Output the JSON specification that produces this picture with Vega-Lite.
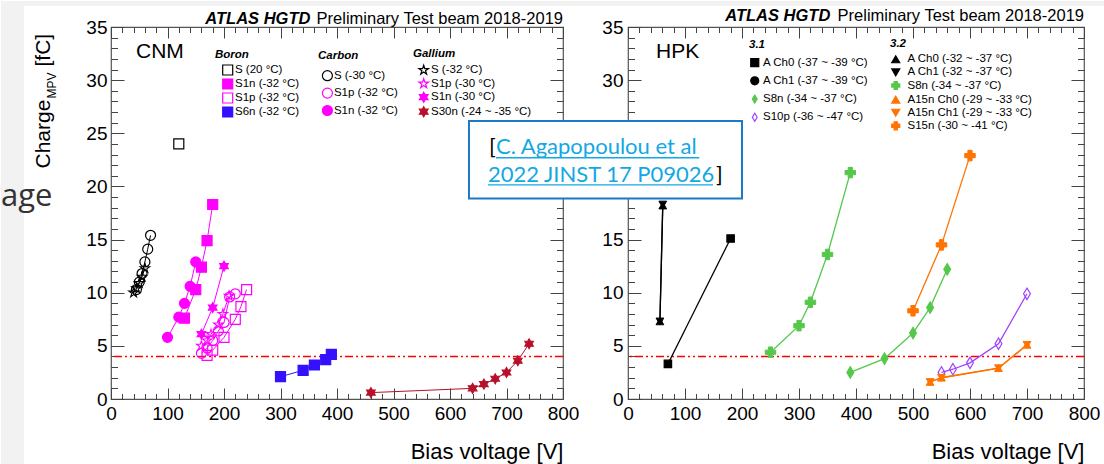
{
  "$schema": "https://vega.github.io/schema/vega-lite/v6.json",
  "background": "white",
  "padding": {"left": 0, "top": 0, "right": 0, "bottom": 0},
  "bounds": "flush",
  "spacing": 65,
  "config": {
    "font": "Liberation Sans",
    "view": {"stroke": "#555555", "strokeWidth": 1.2},
    "axis": {"grid": false, "domain": false, "labelFont": "Liberation Sans", "titleFont": "Liberation Sans", "labelColor": "#000000", "titleColor": "#000000", "tickColor": "#444444", "tickWidth": 1, "titleFontWeight": "normal"},
    "legend": {"orient": "none", "direction": "vertical", "padding": 0, "titleFont": "Liberation Sans", "titleFontSize": 11.5, "titleFontStyle": "italic", "titleFontWeight": "bold", "titleColor": "#000000", "labelFont": "Liberation Sans", "labelFontSize": 11.5, "labelColor": "#000000", "symbolStrokeWidth": 1.2}
  },
  "datasets": {
    "cnm": [
      {"group": "Boron", "series": "S (20 °C)", "v": 120, "q": 24.0},
      {"group": "Boron", "series": "S1n (-32 °C)", "v": 130, "q": 7.6},
      {"group": "Boron", "series": "S1n (-32 °C)", "v": 150, "q": 10.3},
      {"group": "Boron", "series": "S1n (-32 °C)", "v": 160, "q": 12.4},
      {"group": "Boron", "series": "S1n (-32 °C)", "v": 170, "q": 14.9},
      {"group": "Boron", "series": "S1n (-32 °C)", "v": 180, "q": 18.3},
      {"group": "Boron", "series": "S1p (-32 °C)", "v": 170, "q": 4.1},
      {"group": "Boron", "series": "S1p (-32 °C)", "v": 180, "q": 4.6},
      {"group": "Boron", "series": "S1p (-32 °C)", "v": 200, "q": 5.8},
      {"group": "Boron", "series": "S1p (-32 °C)", "v": 220, "q": 7.5},
      {"group": "Boron", "series": "S1p (-32 °C)", "v": 230, "q": 8.7},
      {"group": "Boron", "series": "S1p (-32 °C)", "v": 240, "q": 10.3},
      {"group": "Boron", "series": "S6n (-32 °C)", "v": 300, "q": 2.1},
      {"group": "Boron", "series": "S6n (-32 °C)", "v": 340, "q": 2.7},
      {"group": "Boron", "series": "S6n (-32 °C)", "v": 360, "q": 3.2},
      {"group": "Boron", "series": "S6n (-32 °C)", "v": 380, "q": 3.7},
      {"group": "Boron", "series": "S6n (-32 °C)", "v": 390, "q": 4.2},
      {"group": "Carbon", "series": "S (-30 °C)", "v": 45, "q": 10.3},
      {"group": "Carbon", "series": "S (-30 °C)", "v": 50, "q": 11.0},
      {"group": "Carbon", "series": "S (-30 °C)", "v": 55, "q": 11.8},
      {"group": "Carbon", "series": "S (-30 °C)", "v": 60, "q": 12.9},
      {"group": "Carbon", "series": "S (-30 °C)", "v": 65, "q": 14.1},
      {"group": "Carbon", "series": "S (-30 °C)", "v": 70, "q": 15.4},
      {"group": "Carbon", "series": "S1p (-32 °C)", "v": 160, "q": 4.3},
      {"group": "Carbon", "series": "S1p (-32 °C)", "v": 170, "q": 4.8},
      {"group": "Carbon", "series": "S1p (-32 °C)", "v": 180, "q": 5.5},
      {"group": "Carbon", "series": "S1p (-32 °C)", "v": 190, "q": 6.4},
      {"group": "Carbon", "series": "S1p (-32 °C)", "v": 200, "q": 7.2},
      {"group": "Carbon", "series": "S1p (-32 °C)", "v": 210, "q": 9.6},
      {"group": "Carbon", "series": "S1p (-32 °C)", "v": 220, "q": 9.9},
      {"group": "Carbon", "series": "S1n (-32 °C)", "v": 100, "q": 5.8},
      {"group": "Carbon", "series": "S1n (-32 °C)", "v": 120, "q": 7.7},
      {"group": "Carbon", "series": "S1n (-32 °C)", "v": 130, "q": 9.0},
      {"group": "Carbon", "series": "S1n (-32 °C)", "v": 140, "q": 10.6},
      {"group": "Carbon", "series": "S1n (-32 °C)", "v": 150, "q": 12.9},
      {"group": "Gallium", "series": "S (-32 °C)", "v": 40, "q": 10.0},
      {"group": "Gallium", "series": "S (-32 °C)", "v": 45, "q": 10.4},
      {"group": "Gallium", "series": "S (-32 °C)", "v": 50, "q": 10.9},
      {"group": "Gallium", "series": "S (-32 °C)", "v": 55, "q": 11.5},
      {"group": "Gallium", "series": "S (-32 °C)", "v": 60, "q": 12.3},
      {"group": "Gallium", "series": "S1p (-30 °C)", "v": 160, "q": 5.0},
      {"group": "Gallium", "series": "S1p (-30 °C)", "v": 170, "q": 5.5},
      {"group": "Gallium", "series": "S1p (-30 °C)", "v": 177, "q": 6.1},
      {"group": "Gallium", "series": "S1p (-30 °C)", "v": 190, "q": 7.0},
      {"group": "Gallium", "series": "S1p (-30 °C)", "v": 198, "q": 8.0},
      {"group": "Gallium", "series": "S1p (-30 °C)", "v": 209, "q": 9.7},
      {"group": "Gallium", "series": "S1n (-30 °C)", "v": 160, "q": 6.1},
      {"group": "Gallium", "series": "S1n (-30 °C)", "v": 180, "q": 8.6},
      {"group": "Gallium", "series": "S1n (-30 °C)", "v": 200, "q": 12.5},
      {"group": "Gallium", "series": "S30n (-24 ~ -35 °C)", "v": 460, "q": 0.6},
      {"group": "Gallium", "series": "S30n (-24 ~ -35 °C)", "v": 640, "q": 1.0},
      {"group": "Gallium", "series": "S30n (-24 ~ -35 °C)", "v": 660, "q": 1.4},
      {"group": "Gallium", "series": "S30n (-24 ~ -35 °C)", "v": 680, "q": 1.9},
      {"group": "Gallium", "series": "S30n (-24 ~ -35 °C)", "v": 700, "q": 2.5},
      {"group": "Gallium", "series": "S30n (-24 ~ -35 °C)", "v": 720, "q": 3.6},
      {"group": "Gallium", "series": "S30n (-24 ~ -35 °C)", "v": 740, "q": 5.2}
    ],
    "hpk": [
      {"group": "3.1", "series": "A Ch0 (-37 ~ -39 °C)", "v": 70, "q": 3.3},
      {"group": "3.1", "series": "A Ch0 (-37 ~ -39 °C)", "v": 180, "q": 15.1},
      {"group": "3.1", "series": "S8n (-34 ~ -37 °C)", "v": 390, "q": 2.5},
      {"group": "3.1", "series": "S8n (-34 ~ -37 °C)", "v": 450, "q": 3.8},
      {"group": "3.1", "series": "S8n (-34 ~ -37 °C)", "v": 500, "q": 6.2},
      {"group": "3.1", "series": "S8n (-34 ~ -37 °C)", "v": 530, "q": 8.6},
      {"group": "3.1", "series": "S8n (-34 ~ -37 °C)", "v": 560, "q": 12.2},
      {"group": "3.1", "series": "S10p (-36 ~ -47 °C)", "v": 550, "q": 2.5},
      {"group": "3.1", "series": "S10p (-36 ~ -47 °C)", "v": 570, "q": 2.8},
      {"group": "3.1", "series": "S10p (-36 ~ -47 °C)", "v": 600, "q": 3.4},
      {"group": "3.1", "series": "S10p (-36 ~ -47 °C)", "v": 650, "q": 5.2},
      {"group": "3.1", "series": "S10p (-36 ~ -47 °C)", "v": 700, "q": 9.9},
      {"group": "3.2", "series": "A Ch0 (-32 ~ -37 °C)", "v": 56, "q": 7.3},
      {"group": "3.2", "series": "A Ch0 (-32 ~ -37 °C)", "v": 61, "q": 18.2},
      {"group": "3.2", "series": "A Ch1 (-32 ~ -37 °C)", "v": 56, "q": 7.3},
      {"group": "3.2", "series": "A Ch1 (-32 ~ -37 °C)", "v": 61, "q": 18.3},
      {"group": "3.2", "series": "S8n (-34 ~ -37 °C)", "v": 250, "q": 4.4},
      {"group": "3.2", "series": "S8n (-34 ~ -37 °C)", "v": 300, "q": 6.9},
      {"group": "3.2", "series": "S8n (-34 ~ -37 °C)", "v": 320, "q": 9.1},
      {"group": "3.2", "series": "S8n (-34 ~ -37 °C)", "v": 350, "q": 13.6},
      {"group": "3.2", "series": "S8n (-34 ~ -37 °C)", "v": 390, "q": 21.3},
      {"group": "3.2", "series": "A15n Ch0 (-29 ~ -33 °C)", "v": 530, "q": 1.6},
      {"group": "3.2", "series": "A15n Ch0 (-29 ~ -33 °C)", "v": 550, "q": 2.0},
      {"group": "3.2", "series": "A15n Ch0 (-29 ~ -33 °C)", "v": 650, "q": 2.9},
      {"group": "3.2", "series": "A15n Ch0 (-29 ~ -33 °C)", "v": 700, "q": 5.1},
      {"group": "3.2", "series": "A15n Ch1 (-29 ~ -33 °C)", "v": 530, "q": 1.6},
      {"group": "3.2", "series": "A15n Ch1 (-29 ~ -33 °C)", "v": 550, "q": 2.0},
      {"group": "3.2", "series": "A15n Ch1 (-29 ~ -33 °C)", "v": 650, "q": 2.9},
      {"group": "3.2", "series": "A15n Ch1 (-29 ~ -33 °C)", "v": 700, "q": 5.1},
      {"group": "3.2", "series": "S15n (-30 ~ -41 °C)", "v": 500, "q": 8.3},
      {"group": "3.2", "series": "S15n (-30 ~ -41 °C)", "v": 550, "q": 14.5},
      {"group": "3.2", "series": "S15n (-30 ~ -41 °C)", "v": 600, "q": 22.9}
    ]
  },
  "resolve": {"scale": {"color": "independent", "fill": "independent", "stroke": "independent", "shape": "independent"}},
  "hconcat": [
    {
      "width": 452,
      "height": 372,
      "resolve": {"scale": {"color": "independent", "fill": "independent", "stroke": "independent", "shape": "independent"}, "axis": {"x": "independent", "y": "independent"}, "legend": {"color": "independent", "fill": "independent", "stroke": "independent", "shape": "independent"}},
      "layer": [
        {
          "data": {"values": [{}]},
          "mark": {"type": "rect", "fill": "#f2f2f2"},
          "encoding": {
            "x": {"datum": -194.7, "type": "quantitative", "scale": {"domain": [0, 800], "nice": false, "zero": false}, "axis": null},
            "x2": {"datum": -154},
            "y": {"datum": 37.446, "type": "quantitative", "scale": {"domain": [0, 35], "nice": false, "zero": false}, "axis": null},
            "y2": {"datum": -6.2}
          }
        },
        {
          "data": {"values": [{}]},
          "mark": {"type": "rect", "fill": "#f2f2f2"},
          "encoding": {
            "x": {"datum": -194.7, "type": "quantitative", "scale": {"domain": [0, 800], "nice": false, "zero": false}, "axis": null},
            "x2": {"datum": 1759.3},
            "y": {"datum": 37.446, "type": "quantitative", "scale": {"domain": [0, 35], "nice": false, "zero": false}, "axis": null},
            "y2": {"datum": 36.98}
          }
        },
        {
          "data": {"values": [{}]},
          "mark": {"type": "point", "opacity": 0},
          "encoding": {
            "x": {"datum": 0, "type": "quantitative", "scale": {"domain": [0, 800], "nice": false, "zero": false}, "axis": {"orient": "bottom", "values": [0, 100, 200, 300, 400, 500, 600, 700, 800], "ticks": false, "labelFontSize": 19, "labelPadding": 5, "labelFlush": false, "labelOverlap": false, "title": "Bias voltage [V]", "titleAnchor": "end", "titleFontSize": 22, "titlePadding": 18}},
            "y": {"datum": 0, "type": "quantitative", "scale": {"domain": [0, 35], "nice": false, "zero": false}, "axis": {"orient": "left", "values": [0, 5, 10, 15, 20, 25, 30, 35], "ticks": false, "labelFontSize": 19, "labelPadding": 4, "labelOverlap": false, "title": "Charge", "titleFontSize": 21, "titleAngle": 270, "titleAlign": "left", "titleBaseline": "alphabetic", "titleX": -62, "titleY": 141}}
          }
        },
        {
          "data": {"values": [{}]},
          "mark": {"type": "point", "opacity": 0},
          "encoding": {
            "x": {"datum": 0, "type": "quantitative", "scale": {"domain": [0, 800], "nice": false, "zero": false}, "axis": null},
            "y": {"datum": 0, "type": "quantitative", "scale": {"domain": [0, 35], "nice": false, "zero": false}, "axis": {"orient": "left", "labels": false, "ticks": false, "title": "MPV", "titleFontSize": 12, "titleAngle": 270, "titleAlign": "left", "titleBaseline": "alphabetic", "titleX": -56, "titleY": 71}}
          }
        },
        {
          "data": {"values": [{}]},
          "mark": {"type": "point", "opacity": 0},
          "encoding": {
            "x": {"datum": 0, "type": "quantitative", "scale": {"domain": [0, 800], "nice": false, "zero": false}, "axis": null},
            "y": {"datum": 0, "type": "quantitative", "scale": {"domain": [0, 35], "nice": false, "zero": false}, "axis": {"orient": "left", "labels": false, "ticks": false, "title": "[fC]", "titleFontSize": 21, "titleAngle": 270, "titleAlign": "left", "titleBaseline": "alphabetic", "titleX": -62, "titleY": 39}}
          }
        },
        {
          "data": {"values": [{}]},
          "mark": {"type": "point", "opacity": 0},
          "encoding": {
            "x": {"datum": 0, "type": "quantitative", "scale": {"domain": [0, 800], "nice": false, "zero": false}, "axis": {"orient": "bottom", "values": [0, 100, 200, 300, 400, 500, 600, 700, 800], "labels": false, "tickSize": -11, "title": null}},
            "y": {"datum": 0, "type": "quantitative", "scale": {"domain": [0, 35], "nice": false, "zero": false}, "axis": {"orient": "left", "values": [0, 5, 10, 15, 20, 25, 30, 35], "labels": false, "tickSize": -13, "title": null}}
          }
        },
        {
          "data": {"values": [{}]},
          "mark": {"type": "point", "opacity": 0},
          "encoding": {
            "x": {"datum": 0, "type": "quantitative", "scale": {"domain": [0, 800], "nice": false, "zero": false}, "axis": {"orient": "bottom", "values": [0, 20, 40, 60, 80, 100, 120, 140, 160, 180, 200, 220, 240, 260, 280, 300, 320, 340, 360, 380, 400, 420, 440, 460, 480, 500, 520, 540, 560, 580, 600, 620, 640, 660, 680, 700, 720, 740, 760, 780, 800], "labels": false, "tickSize": -5.5, "title": null}},
            "y": {"datum": 0, "type": "quantitative", "scale": {"domain": [0, 35], "nice": false, "zero": false}, "axis": {"orient": "left", "values": [0, 1, 2, 3, 4, 5, 6, 7, 8, 9, 10, 11, 12, 13, 14, 15, 16, 17, 18, 19, 20, 21, 22, 23, 24, 25, 26, 27, 28, 29, 30, 31, 32, 33, 34, 35], "labels": false, "tickSize": -6.5, "title": null}}
          }
        },
        {
          "data": {"values": [{}]},
          "mark": {"type": "point", "opacity": 0},
          "encoding": {
            "x": {"datum": 0, "type": "quantitative", "scale": {"domain": [0, 800], "nice": false, "zero": false}, "axis": {"orient": "top", "values": [0, 100, 200, 300, 400, 500, 600, 700, 800], "labels": false, "tickSize": -11, "title": null}},
            "y": {"datum": 0, "type": "quantitative", "scale": {"domain": [0, 35], "nice": false, "zero": false}, "axis": {"orient": "right", "values": [0, 5, 10, 15, 20, 25, 30, 35], "labels": false, "tickSize": -13, "title": null}}
          }
        },
        {
          "data": {"values": [{}]},
          "mark": {"type": "point", "opacity": 0},
          "encoding": {
            "x": {"datum": 0, "type": "quantitative", "scale": {"domain": [0, 800], "nice": false, "zero": false}, "axis": {"orient": "top", "values": [0, 20, 40, 60, 80, 100, 120, 140, 160, 180, 200, 220, 240, 260, 280, 300, 320, 340, 360, 380, 400, 420, 440, 460, 480, 500, 520, 540, 560, 580, 600, 620, 640, 660, 680, 700, 720, 740, 760, 780, 800], "labels": false, "tickSize": -5.5, "title": null}},
            "y": {"datum": 0, "type": "quantitative", "scale": {"domain": [0, 35], "nice": false, "zero": false}, "axis": {"orient": "right", "values": [0, 1, 2, 3, 4, 5, 6, 7, 8, 9, 10, 11, 12, 13, 14, 15, 16, 17, 18, 19, 20, 21, 22, 23, 24, 25, 26, 27, 28, 29, 30, 31, 32, 33, 34, 35], "labels": false, "tickSize": -6.5, "title": null}}
          }
        },
        {
          "data": {"values": [{}]},
          "mark": {"type": "rule", "color": "#ff0000", "strokeWidth": 1.5, "strokeDash": [8, 3, 2, 3, 2, 3]},
          "encoding": {
            "y": {"datum": 4, "type": "quantitative", "scale": {"domain": [0, 35], "nice": false, "zero": false}, "axis": null}
          }
        },
        {
          "data": {"name": "cnm"},
          "transform": [{"filter": "datum.group === 'Boron'"}],
          "mark": {"type": "line", "strokeWidth": 1},
          "encoding": {
            "x": {"field": "v", "type": "quantitative", "scale": {"domain": [0, 800], "nice": false, "zero": false}, "axis": null},
            "y": {"field": "q", "type": "quantitative", "scale": {"domain": [0, 35], "nice": false, "zero": false}, "axis": null},
            "color": {"field": "series", "type": "nominal", "scale": {"domain": ["S (20 °C)", "S1n (-32 °C)", "S1p (-32 °C)", "S6n (-32 °C)"], "range": ["#000000", "#ff00ff", "#ff00ff", "#3311ff"]}, "legend": null}
          }
        },
        {
          "data": {"name": "cnm"},
          "transform": [{"filter": "datum.group === 'Boron'"}],
          "mark": {"type": "point", "opacity": 1, "size": 100, "strokeWidth": 1.2},
          "encoding": {
            "x": {"field": "v", "type": "quantitative", "scale": {"domain": [0, 800], "nice": false, "zero": false}, "axis": null},
            "y": {"field": "q", "type": "quantitative", "scale": {"domain": [0, 35], "nice": false, "zero": false}, "axis": null},
            "stroke": {"field": "series", "type": "nominal", "scale": {"domain": ["S (20 °C)", "S1n (-32 °C)", "S1p (-32 °C)", "S6n (-32 °C)"], "range": ["#000000", "#ff00ff", "#ff00ff", "#3311ff"]}, "legend": {"orient": "none", "title": "Boron", "legendX": 104, "legendY": 21.5, "titlePadding": 4, "rowPadding": -2.4, "symbolOffset": 6.7, "labelOffset": 1.3, "symbolSize": 100}},
            "fill": {"field": "series", "type": "nominal", "scale": {"domain": ["S (20 °C)", "S1n (-32 °C)", "S1p (-32 °C)", "S6n (-32 °C)"], "range": ["transparent", "#ff00ff", "transparent", "#3311ff"]}, "legend": {"orient": "none", "title": "Boron", "legendX": 104, "legendY": 21.5, "titlePadding": 4, "rowPadding": -2.4, "symbolOffset": 6.7, "labelOffset": 1.3, "symbolSize": 100}},
            "shape": {"field": "series", "type": "nominal", "scale": {"domain": ["S (20 °C)", "S1n (-32 °C)", "S1p (-32 °C)", "S6n (-32 °C)"], "range": ["square", "square", "square", "square"]}, "legend": {"orient": "none", "title": "Boron", "legendX": 104, "legendY": 21.5, "titlePadding": 4, "rowPadding": -2.4, "symbolOffset": 6.7, "labelOffset": 1.3, "symbolSize": 100}}
          }
        },
        {
          "data": {"name": "cnm"},
          "transform": [{"filter": "datum.group === 'Carbon'"}],
          "mark": {"type": "line", "strokeWidth": 1},
          "encoding": {
            "x": {"field": "v", "type": "quantitative", "scale": {"domain": [0, 800], "nice": false, "zero": false}, "axis": null},
            "y": {"field": "q", "type": "quantitative", "scale": {"domain": [0, 35], "nice": false, "zero": false}, "axis": null},
            "color": {"field": "series", "type": "nominal", "scale": {"domain": ["S (-30 °C)", "S1p (-32 °C)", "S1n (-32 °C)"], "range": ["#000000", "#ff00ff", "#ff00ff"]}, "legend": null}
          }
        },
        {
          "data": {"name": "cnm"},
          "transform": [{"filter": "datum.group === 'Carbon'"}],
          "mark": {"type": "point", "opacity": 1, "size": 100, "strokeWidth": 1.2},
          "encoding": {
            "x": {"field": "v", "type": "quantitative", "scale": {"domain": [0, 800], "nice": false, "zero": false}, "axis": null},
            "y": {"field": "q", "type": "quantitative", "scale": {"domain": [0, 35], "nice": false, "zero": false}, "axis": null},
            "stroke": {"field": "series", "type": "nominal", "scale": {"domain": ["S (-30 °C)", "S1p (-32 °C)", "S1n (-32 °C)"], "range": ["#000000", "#ff00ff", "#ff00ff"]}, "legend": {"orient": "none", "title": "Carbon", "legendX": 207, "legendY": 23.2, "titlePadding": 8, "rowPadding": 1.4, "symbolOffset": 3.4, "labelOffset": 0.5, "symbolSize": 100}},
            "fill": {"field": "series", "type": "nominal", "scale": {"domain": ["S (-30 °C)", "S1p (-32 °C)", "S1n (-32 °C)"], "range": ["transparent", "transparent", "#ff00ff"]}, "legend": {"orient": "none", "title": "Carbon", "legendX": 207, "legendY": 23.2, "titlePadding": 8, "rowPadding": 1.4, "symbolOffset": 3.4, "labelOffset": 0.5, "symbolSize": 100}},
            "shape": {"field": "series", "type": "nominal", "scale": {"domain": ["S (-30 °C)", "S1p (-32 °C)", "S1n (-32 °C)"], "range": ["circle", "circle", "circle"]}, "legend": {"orient": "none", "title": "Carbon", "legendX": 207, "legendY": 23.2, "titlePadding": 8, "rowPadding": 1.4, "symbolOffset": 3.4, "labelOffset": 0.5, "symbolSize": 100}}
          }
        },
        {
          "data": {"name": "cnm"},
          "transform": [{"filter": "datum.group === 'Gallium'"}],
          "mark": {"type": "line", "strokeWidth": 1},
          "encoding": {
            "x": {"field": "v", "type": "quantitative", "scale": {"domain": [0, 800], "nice": false, "zero": false}, "axis": null},
            "y": {"field": "q", "type": "quantitative", "scale": {"domain": [0, 35], "nice": false, "zero": false}, "axis": null},
            "color": {"field": "series", "type": "nominal", "scale": {"domain": ["S (-32 °C)", "S1p (-30 °C)", "S1n (-30 °C)", "S30n (-24 ~ -35 °C)"], "range": ["#000000", "#ff00ff", "#ff00ff", "#b8102a"]}, "legend": null}
          }
        },
        {
          "data": {"name": "cnm"},
          "transform": [{"filter": "datum.group === 'Gallium'"}],
          "mark": {"type": "point", "opacity": 1, "size": 100, "strokeWidth": 1.1},
          "encoding": {
            "x": {"field": "v", "type": "quantitative", "scale": {"domain": [0, 800], "nice": false, "zero": false}, "axis": null},
            "y": {"field": "q", "type": "quantitative", "scale": {"domain": [0, 35], "nice": false, "zero": false}, "axis": null},
            "stroke": {"field": "series", "type": "nominal", "scale": {"domain": ["S (-32 °C)", "S1p (-30 °C)", "S1n (-30 °C)", "S30n (-24 ~ -35 °C)"], "range": ["#000000", "#ff00ff", "#ff00ff", "#b8102a"]}, "legend": {"orient": "none", "title": "Gallium", "legendX": 302, "legendY": 21.2, "titlePadding": 4.5, "rowPadding": -1.5, "symbolOffset": 4.7, "labelOffset": 1.3, "symbolSize": 100}},
            "fill": {"field": "series", "type": "nominal", "scale": {"domain": ["S (-32 °C)", "S1p (-30 °C)", "S1n (-30 °C)", "S30n (-24 ~ -35 °C)"], "range": ["transparent", "transparent", "#ff00ff", "#b8102a"]}, "legend": {"orient": "none", "title": "Gallium", "legendX": 302, "legendY": 21.2, "titlePadding": 4.5, "rowPadding": -1.5, "symbolOffset": 4.7, "labelOffset": 1.3, "symbolSize": 100}},
            "shape": {"field": "series", "type": "nominal", "scale": {"domain": ["S (-32 °C)", "S1p (-30 °C)", "S1n (-30 °C)", "S30n (-24 ~ -35 °C)"], "range": ["M0,-1L0.2245,-0.309L0.9511,-0.309L0.3633,0.118L0.5878,0.809L0,0.382L-0.5878,0.809L-0.3633,0.118L-0.9511,-0.309L-0.2245,-0.309Z", "M0,-1L0.2245,-0.309L0.9511,-0.309L0.3633,0.118L0.5878,0.809L0,0.382L-0.5878,0.809L-0.3633,0.118L-0.9511,-0.309L-0.2245,-0.309Z", "M0,-1L0.2887,-0.5L0.866,-0.5L0.5774,0L0.866,0.5L0.2887,0.5L0,1L-0.2887,0.5L-0.866,0.5L-0.5774,0L-0.866,-0.5L-0.2887,-0.5Z", "M0,-1L0.2887,-0.5L0.866,-0.5L0.5774,0L0.866,0.5L0.2887,0.5L0,1L-0.2887,0.5L-0.866,0.5L-0.5774,0L-0.866,-0.5L-0.2887,-0.5Z"]}, "legend": {"orient": "none", "title": "Gallium", "legendX": 302, "legendY": 21.2, "titlePadding": 4.5, "rowPadding": -1.5, "symbolOffset": 4.7, "labelOffset": 1.3, "symbolSize": 100}}
          }
        },
        {
          "data": {"values": [{}]},
          "mark": {"type": "text", "text": "CNM", "align": "left", "baseline": "alphabetic", "fontSize": 21, "font": "Liberation Sans", "color": "#000000"},
          "encoding": {
            "x": {"datum": 44.2, "type": "quantitative", "scale": {"domain": [0, 800], "nice": false, "zero": false}, "axis": null},
            "y": {"datum": 32.11, "type": "quantitative", "scale": {"domain": [0, 35], "nice": false, "zero": false}, "axis": null}
          }
        },
        {
          "data": {"values": [{}]},
          "mark": {"type": "text", "text": "ATLAS HGTD", "align": "right", "baseline": "alphabetic", "fontSize": 16.5, "fontStyle": "italic", "fontWeight": "bold", "font": "Liberation Sans", "color": "#000000"},
          "encoding": {
            "x": {"datum": 353, "type": "quantitative", "scale": {"domain": [0, 800], "nice": false, "zero": false}, "axis": null},
            "y": {"datum": 35.28, "type": "quantitative", "scale": {"domain": [0, 35], "nice": false, "zero": false}, "axis": null}
          }
        },
        {
          "data": {"values": [{}]},
          "mark": {"type": "text", "text": "Preliminary Test beam 2018-2019", "align": "right", "baseline": "alphabetic", "fontSize": 16.5, "font": "Liberation Sans", "color": "#000000"},
          "encoding": {
            "x": {"datum": 800, "type": "quantitative", "scale": {"domain": [0, 800], "nice": false, "zero": false}, "axis": null},
            "y": {"datum": 35.28, "type": "quantitative", "scale": {"domain": [0, 35], "nice": false, "zero": false}, "axis": null}
          }
        },
        {
          "data": {"values": [{}]},
          "mark": {"type": "text", "text": "age", "align": "left", "baseline": "alphabetic", "fontSize": 31, "font": "Open Sans", "color": "#333333"},
          "encoding": {
            "x": {"datum": -194.7, "type": "quantitative", "scale": {"domain": [0, 800], "nice": false, "zero": false}, "axis": null},
            "y": {"datum": 18.2, "type": "quantitative", "scale": {"domain": [0, 35], "nice": false, "zero": false}, "axis": null}
          }
        }
      ]
    },
    {
      "width": 456,
      "height": 372,
      "resolve": {"scale": {"color": "independent", "fill": "independent", "stroke": "independent", "shape": "independent"}, "axis": {"x": "independent", "y": "independent"}, "legend": {"color": "independent", "fill": "independent", "stroke": "independent", "shape": "independent"}},
      "layer": [
        {
          "data": {"values": [{}]},
          "mark": {"type": "point", "opacity": 0},
          "encoding": {
            "x": {"datum": 0, "type": "quantitative", "scale": {"domain": [0, 800], "nice": false, "zero": false}, "axis": {"orient": "bottom", "values": [0, 100, 200, 300, 400, 500, 600, 700, 800], "ticks": false, "labelFontSize": 19, "labelPadding": 5, "labelFlush": false, "labelOverlap": false, "title": "Bias voltage [V]", "titleAnchor": "end", "titleFontSize": 22, "titlePadding": 18}},
            "y": {"datum": 0, "type": "quantitative", "scale": {"domain": [0, 35], "nice": false, "zero": false}, "axis": {"orient": "left", "values": [0, 5, 10, 15, 20, 25, 30, 35], "ticks": false, "labelFontSize": 19, "labelPadding": 5, "labelOverlap": false, "title": null}}
          }
        },
        {
          "data": {"values": [{}]},
          "mark": {"type": "point", "opacity": 0},
          "encoding": {
            "x": {"datum": 0, "type": "quantitative", "scale": {"domain": [0, 800], "nice": false, "zero": false}, "axis": {"orient": "bottom", "values": [0, 100, 200, 300, 400, 500, 600, 700, 800], "labels": false, "tickSize": -11, "title": null}},
            "y": {"datum": 0, "type": "quantitative", "scale": {"domain": [0, 35], "nice": false, "zero": false}, "axis": {"orient": "left", "values": [0, 5, 10, 15, 20, 25, 30, 35], "labels": false, "tickSize": -13, "title": null}}
          }
        },
        {
          "data": {"values": [{}]},
          "mark": {"type": "point", "opacity": 0},
          "encoding": {
            "x": {"datum": 0, "type": "quantitative", "scale": {"domain": [0, 800], "nice": false, "zero": false}, "axis": {"orient": "bottom", "values": [0, 20, 40, 60, 80, 100, 120, 140, 160, 180, 200, 220, 240, 260, 280, 300, 320, 340, 360, 380, 400, 420, 440, 460, 480, 500, 520, 540, 560, 580, 600, 620, 640, 660, 680, 700, 720, 740, 760, 780, 800], "labels": false, "tickSize": -5.5, "title": null}},
            "y": {"datum": 0, "type": "quantitative", "scale": {"domain": [0, 35], "nice": false, "zero": false}, "axis": {"orient": "left", "values": [0, 1, 2, 3, 4, 5, 6, 7, 8, 9, 10, 11, 12, 13, 14, 15, 16, 17, 18, 19, 20, 21, 22, 23, 24, 25, 26, 27, 28, 29, 30, 31, 32, 33, 34, 35], "labels": false, "tickSize": -6.5, "title": null}}
          }
        },
        {
          "data": {"values": [{}]},
          "mark": {"type": "point", "opacity": 0},
          "encoding": {
            "x": {"datum": 0, "type": "quantitative", "scale": {"domain": [0, 800], "nice": false, "zero": false}, "axis": {"orient": "top", "values": [0, 100, 200, 300, 400, 500, 600, 700, 800], "labels": false, "tickSize": -11, "title": null}},
            "y": {"datum": 0, "type": "quantitative", "scale": {"domain": [0, 35], "nice": false, "zero": false}, "axis": {"orient": "right", "values": [0, 5, 10, 15, 20, 25, 30, 35], "labels": false, "tickSize": -13, "title": null}}
          }
        },
        {
          "data": {"values": [{}]},
          "mark": {"type": "point", "opacity": 0},
          "encoding": {
            "x": {"datum": 0, "type": "quantitative", "scale": {"domain": [0, 800], "nice": false, "zero": false}, "axis": {"orient": "top", "values": [0, 20, 40, 60, 80, 100, 120, 140, 160, 180, 200, 220, 240, 260, 280, 300, 320, 340, 360, 380, 400, 420, 440, 460, 480, 500, 520, 540, 560, 580, 600, 620, 640, 660, 680, 700, 720, 740, 760, 780, 800], "labels": false, "tickSize": -5.5, "title": null}},
            "y": {"datum": 0, "type": "quantitative", "scale": {"domain": [0, 35], "nice": false, "zero": false}, "axis": {"orient": "right", "values": [0, 1, 2, 3, 4, 5, 6, 7, 8, 9, 10, 11, 12, 13, 14, 15, 16, 17, 18, 19, 20, 21, 22, 23, 24, 25, 26, 27, 28, 29, 30, 31, 32, 33, 34, 35], "labels": false, "tickSize": -6.5, "title": null}}
          }
        },
        {
          "data": {"values": [{}]},
          "mark": {"type": "rule", "color": "#ff0000", "strokeWidth": 1.5, "strokeDash": [8, 3, 2, 3, 2, 3]},
          "encoding": {
            "y": {"datum": 4, "type": "quantitative", "scale": {"domain": [0, 35], "nice": false, "zero": false}, "axis": null}
          }
        },
        {
          "data": {"name": "hpk"},
          "transform": [{"filter": "datum.group === '3.1'"}],
          "mark": {"type": "line", "strokeWidth": 1.3},
          "encoding": {
            "x": {"field": "v", "type": "quantitative", "scale": {"domain": [0, 800], "nice": false, "zero": false}, "axis": null},
            "y": {"field": "q", "type": "quantitative", "scale": {"domain": [0, 35], "nice": false, "zero": false}, "axis": null},
            "color": {"field": "series", "type": "nominal", "scale": {"domain": ["A Ch0 (-37 ~ -39 °C)", "A Ch1 (-37 ~ -39 °C)", "S8n (-34 ~ -37 °C)", "S10p (-36 ~ -47 °C)"], "range": ["#000000", "#000000", "#55c84b", "#a040ff"]}, "legend": null}
          }
        },
        {
          "data": {"name": "hpk"},
          "transform": [{"filter": "datum.group === '3.1' && test(/^A/, datum.series)"}],
          "mark": {"type": "point", "opacity": 1, "size": 55, "strokeWidth": 1.2},
          "encoding": {
            "x": {"field": "v", "type": "quantitative", "scale": {"domain": [0, 800], "nice": false, "zero": false}, "axis": null},
            "y": {"field": "q", "type": "quantitative", "scale": {"domain": [0, 35], "nice": false, "zero": false}, "axis": null},
            "stroke": {"field": "series", "type": "nominal", "scale": {"domain": ["A Ch0 (-37 ~ -39 °C)", "A Ch1 (-37 ~ -39 °C)"], "range": ["#000000", "#000000"]}, "legend": null},
            "fill": {"field": "series", "type": "nominal", "scale": {"domain": ["A Ch0 (-37 ~ -39 °C)", "A Ch1 (-37 ~ -39 °C)"], "range": ["#000000", "#000000"]}, "legend": null},
            "shape": {"field": "series", "type": "nominal", "scale": {"domain": ["A Ch0 (-37 ~ -39 °C)", "A Ch1 (-37 ~ -39 °C)"], "range": ["square", "circle"]}, "legend": null}
          }
        },
        {
          "data": {"name": "hpk"},
          "transform": [{"filter": "datum.group === '3.1' && test(/^S/, datum.series)"}],
          "mark": {"type": "point", "opacity": 1, "size": 130, "strokeWidth": 1.2},
          "encoding": {
            "x": {"field": "v", "type": "quantitative", "scale": {"domain": [0, 800], "nice": false, "zero": false}, "axis": null},
            "y": {"field": "q", "type": "quantitative", "scale": {"domain": [0, 35], "nice": false, "zero": false}, "axis": null},
            "stroke": {"field": "series", "type": "nominal", "scale": {"domain": ["A Ch0 (-37 ~ -39 °C)", "A Ch1 (-37 ~ -39 °C)", "S8n (-34 ~ -37 °C)", "S10p (-36 ~ -47 °C)"], "range": ["#000000", "#000000", "#55c84b", "#a040ff"]}, "legend": {"orient": "none", "title": "3.1", "legendX": 121, "legendY": 11.5, "titlePadding": 6.9, "rowPadding": 4.2, "symbolOffset": 0, "labelOffset": 2.5, "symbolSize": 64}},
            "fill": {"field": "series", "type": "nominal", "scale": {"domain": ["A Ch0 (-37 ~ -39 °C)", "A Ch1 (-37 ~ -39 °C)", "S8n (-34 ~ -37 °C)", "S10p (-36 ~ -47 °C)"], "range": ["#000000", "#000000", "#55c84b", "transparent"]}, "legend": {"orient": "none", "title": "3.1", "legendX": 121, "legendY": 11.5, "titlePadding": 6.9, "rowPadding": 4.2, "symbolOffset": 0, "labelOffset": 2.5, "symbolSize": 64}},
            "shape": {"field": "series", "type": "nominal", "scale": {"domain": ["A Ch0 (-37 ~ -39 °C)", "A Ch1 (-37 ~ -39 °C)", "S8n (-34 ~ -37 °C)", "S10p (-36 ~ -47 °C)"], "range": ["square", "circle", "M0,-1L0.6,0L0,1L-0.6,0Z", "M0,-1L0.6,0L0,1L-0.6,0Z"]}, "legend": {"orient": "none", "title": "3.1", "legendX": 121, "legendY": 11.5, "titlePadding": 6.9, "rowPadding": 4.2, "symbolOffset": 0, "labelOffset": 2.5, "symbolSize": 64}}
          }
        },
        {
          "data": {"name": "hpk"},
          "transform": [{"filter": "datum.group === '3.2'"}],
          "mark": {"type": "line", "strokeWidth": 1.3},
          "encoding": {
            "x": {"field": "v", "type": "quantitative", "scale": {"domain": [0, 800], "nice": false, "zero": false}, "axis": null},
            "y": {"field": "q", "type": "quantitative", "scale": {"domain": [0, 35], "nice": false, "zero": false}, "axis": null},
            "color": {"field": "series", "type": "nominal", "scale": {"domain": ["A Ch0 (-32 ~ -37 °C)", "A Ch1 (-32 ~ -37 °C)", "S8n (-34 ~ -37 °C)", "A15n Ch0 (-29 ~ -33 °C)", "A15n Ch1 (-29 ~ -33 °C)", "S15n (-30 ~ -41 °C)"], "range": ["#000000", "#000000", "#55c84b", "#ff7300", "#ff7300", "#ff7300"]}, "legend": null}
          }
        },
        {
          "data": {"name": "hpk"},
          "transform": [{"filter": "datum.group === '3.2' && test(/^A/, datum.series)"}],
          "mark": {"type": "point", "opacity": 1, "size": 60, "strokeWidth": 1},
          "encoding": {
            "x": {"field": "v", "type": "quantitative", "scale": {"domain": [0, 800], "nice": false, "zero": false}, "axis": null},
            "y": {"field": "q", "type": "quantitative", "scale": {"domain": [0, 35], "nice": false, "zero": false}, "axis": null},
            "stroke": {"field": "series", "type": "nominal", "scale": {"domain": ["A Ch0 (-32 ~ -37 °C)", "A Ch1 (-32 ~ -37 °C)", "A15n Ch0 (-29 ~ -33 °C)", "A15n Ch1 (-29 ~ -33 °C)"], "range": ["#000000", "#000000", "#ff7300", "#ff7300"]}, "legend": null},
            "fill": {"field": "series", "type": "nominal", "scale": {"domain": ["A Ch0 (-32 ~ -37 °C)", "A Ch1 (-32 ~ -37 °C)", "A15n Ch0 (-29 ~ -33 °C)", "A15n Ch1 (-29 ~ -33 °C)"], "range": ["#000000", "#000000", "#ff7300", "#ff7300"]}, "legend": null},
            "shape": {"field": "series", "type": "nominal", "scale": {"domain": ["A Ch0 (-32 ~ -37 °C)", "A Ch1 (-32 ~ -37 °C)", "A15n Ch0 (-29 ~ -33 °C)", "A15n Ch1 (-29 ~ -33 °C)"], "range": ["triangle-up", "triangle-down", "triangle-up", "triangle-down"]}, "legend": null}
          }
        },
        {
          "data": {"name": "hpk"},
          "transform": [{"filter": "datum.group === '3.2' && test(/^S/, datum.series)"}],
          "mark": {"type": "point", "opacity": 1, "size": 110, "strokeWidth": 1},
          "encoding": {
            "x": {"field": "v", "type": "quantitative", "scale": {"domain": [0, 800], "nice": false, "zero": false}, "axis": null},
            "y": {"field": "q", "type": "quantitative", "scale": {"domain": [0, 35], "nice": false, "zero": false}, "axis": null},
            "stroke": {"field": "series", "type": "nominal", "scale": {"domain": ["A Ch0 (-32 ~ -37 °C)", "A Ch1 (-32 ~ -37 °C)", "S8n (-34 ~ -37 °C)", "A15n Ch0 (-29 ~ -33 °C)", "A15n Ch1 (-29 ~ -33 °C)", "S15n (-30 ~ -41 °C)"], "range": ["#000000", "#000000", "#55c84b", "#ff7300", "#ff7300", "#ff7300"]}, "legend": {"orient": "none", "title": "3.2", "legendX": 262, "legendY": 11.25, "titlePadding": 3.8, "rowPadding": 0.1, "symbolOffset": 0, "labelOffset": 6, "symbolSize": 64}},
            "fill": {"field": "series", "type": "nominal", "scale": {"domain": ["A Ch0 (-32 ~ -37 °C)", "A Ch1 (-32 ~ -37 °C)", "S8n (-34 ~ -37 °C)", "A15n Ch0 (-29 ~ -33 °C)", "A15n Ch1 (-29 ~ -33 °C)", "S15n (-30 ~ -41 °C)"], "range": ["#000000", "#000000", "#55c84b", "#ff7300", "#ff7300", "#ff7300"]}, "legend": {"orient": "none", "title": "3.2", "legendX": 262, "legendY": 11.25, "titlePadding": 3.8, "rowPadding": 0.1, "symbolOffset": 0, "labelOffset": 6, "symbolSize": 64}},
            "shape": {"field": "series", "type": "nominal", "scale": {"domain": ["A Ch0 (-32 ~ -37 °C)", "A Ch1 (-32 ~ -37 °C)", "S8n (-34 ~ -37 °C)", "A15n Ch0 (-29 ~ -33 °C)", "A15n Ch1 (-29 ~ -33 °C)", "S15n (-30 ~ -41 °C)"], "range": ["triangle-up", "triangle-down", "cross", "triangle-up", "triangle-down", "cross"]}, "legend": {"orient": "none", "title": "3.2", "legendX": 262, "legendY": 11.25, "titlePadding": 3.8, "rowPadding": 0.1, "symbolOffset": 0, "labelOffset": 6, "symbolSize": 64}}
          }
        },
        {
          "data": {"values": [{}]},
          "mark": {"type": "text", "text": "HPK", "align": "left", "baseline": "alphabetic", "fontSize": 21, "font": "Liberation Sans", "color": "#000000"},
          "encoding": {
            "x": {"datum": 49.1, "type": "quantitative", "scale": {"domain": [0, 800], "nice": false, "zero": false}, "axis": null},
            "y": {"datum": 32.11, "type": "quantitative", "scale": {"domain": [0, 35], "nice": false, "zero": false}, "axis": null}
          }
        },
        {
          "data": {"values": [{}]},
          "mark": {"type": "text", "text": "ATLAS HGTD", "align": "right", "baseline": "alphabetic", "fontSize": 16.5, "fontStyle": "italic", "fontWeight": "bold", "font": "Liberation Sans", "color": "#000000"},
          "encoding": {
            "x": {"datum": 355, "type": "quantitative", "scale": {"domain": [0, 800], "nice": false, "zero": false}, "axis": null},
            "y": {"datum": 35.61, "type": "quantitative", "scale": {"domain": [0, 35], "nice": false, "zero": false}, "axis": null}
          }
        },
        {
          "data": {"values": [{}]},
          "mark": {"type": "text", "text": "Preliminary Test beam 2018-2019", "align": "right", "baseline": "alphabetic", "fontSize": 16.5, "font": "Liberation Sans", "color": "#000000"},
          "encoding": {
            "x": {"datum": 800, "type": "quantitative", "scale": {"domain": [0, 800], "nice": false, "zero": false}, "axis": null},
            "y": {"datum": 35.61, "type": "quantitative", "scale": {"domain": [0, 35], "nice": false, "zero": false}, "axis": null}
          }
        },
        {
          "data": {"values": [{}]},
          "mark": {"type": "rect", "fill": "#ffffff", "stroke": "#1a7ac8", "strokeWidth": 2},
          "encoding": {
            "x": {"datum": -279, "type": "quantitative", "scale": {"domain": [0, 800], "nice": false, "zero": false}, "axis": null},
            "x2": {"datum": 200},
            "y": {"datum": 26.16, "type": "quantitative", "scale": {"domain": [0, 35], "nice": false, "zero": false}, "axis": null},
            "y2": {"datum": 18.87}
          }
        },
        {
          "data": {"values": [{}]},
          "mark": {"type": "text", "text": "[", "align": "left", "baseline": "alphabetic", "fontSize": 22, "font": "Lato", "color": "#000000"},
          "encoding": {
            "x": {"datum": -243.9, "type": "quantitative", "scale": {"domain": [0, 800], "nice": false, "zero": false}, "axis": null},
            "y": {"datum": 23.02, "type": "quantitative", "scale": {"domain": [0, 35], "nice": false, "zero": false}, "axis": null}
          }
        },
        {
          "data": {"values": [{}]},
          "mark": {"type": "text", "text": "C. Agapopoulou et al", "align": "left", "baseline": "alphabetic", "fontSize": 22, "font": "Lato", "color": "#13a8e3"},
          "encoding": {
            "x": {"datum": -231.6, "type": "quantitative", "scale": {"domain": [0, 800], "nice": false, "zero": false}, "axis": null},
            "y": {"datum": 23.02, "type": "quantitative", "scale": {"domain": [0, 35], "nice": false, "zero": false}, "axis": null}
          }
        },
        {
          "data": {"values": [{}]},
          "mark": {"type": "text", "text": "2022 JINST 17 P09026", "align": "left", "baseline": "alphabetic", "fontSize": 22, "font": "Lato", "color": "#13a8e3"},
          "encoding": {
            "x": {"datum": -245.6, "type": "quantitative", "scale": {"domain": [0, 800], "nice": false, "zero": false}, "axis": null},
            "y": {"datum": 20.42, "type": "quantitative", "scale": {"domain": [0, 35], "nice": false, "zero": false}, "axis": null}
          }
        },
        {
          "data": {"values": [{}]},
          "mark": {"type": "text", "text": "]", "align": "left", "baseline": "alphabetic", "fontSize": 22, "font": "Lato", "color": "#000000"},
          "encoding": {
            "x": {"datum": 154.4, "type": "quantitative", "scale": {"domain": [0, 800], "nice": false, "zero": false}, "axis": null},
            "y": {"datum": 20.42, "type": "quantitative", "scale": {"domain": [0, 35], "nice": false, "zero": false}, "axis": null}
          }
        },
        {
          "data": {"values": [{}]},
          "mark": {"type": "rule", "color": "#13a8e3", "strokeWidth": 1.3},
          "encoding": {
            "x": {"datum": -231.6, "type": "quantitative", "scale": {"domain": [0, 800], "nice": false, "zero": false}, "axis": null},
            "x2": {"datum": 125},
            "y": {"datum": 22.7, "type": "quantitative", "scale": {"domain": [0, 35], "nice": false, "zero": false}, "axis": null}
          }
        },
        {
          "data": {"values": [{}]},
          "mark": {"type": "rule", "color": "#13a8e3", "strokeWidth": 1.3},
          "encoding": {
            "x": {"datum": -245.6, "type": "quantitative", "scale": {"domain": [0, 800], "nice": false, "zero": false}, "axis": null},
            "x2": {"datum": 149.1},
            "y": {"datum": 20.14, "type": "quantitative", "scale": {"domain": [0, 35], "nice": false, "zero": false}, "axis": null}
          }
        }
      ]
    }
  ]
}
